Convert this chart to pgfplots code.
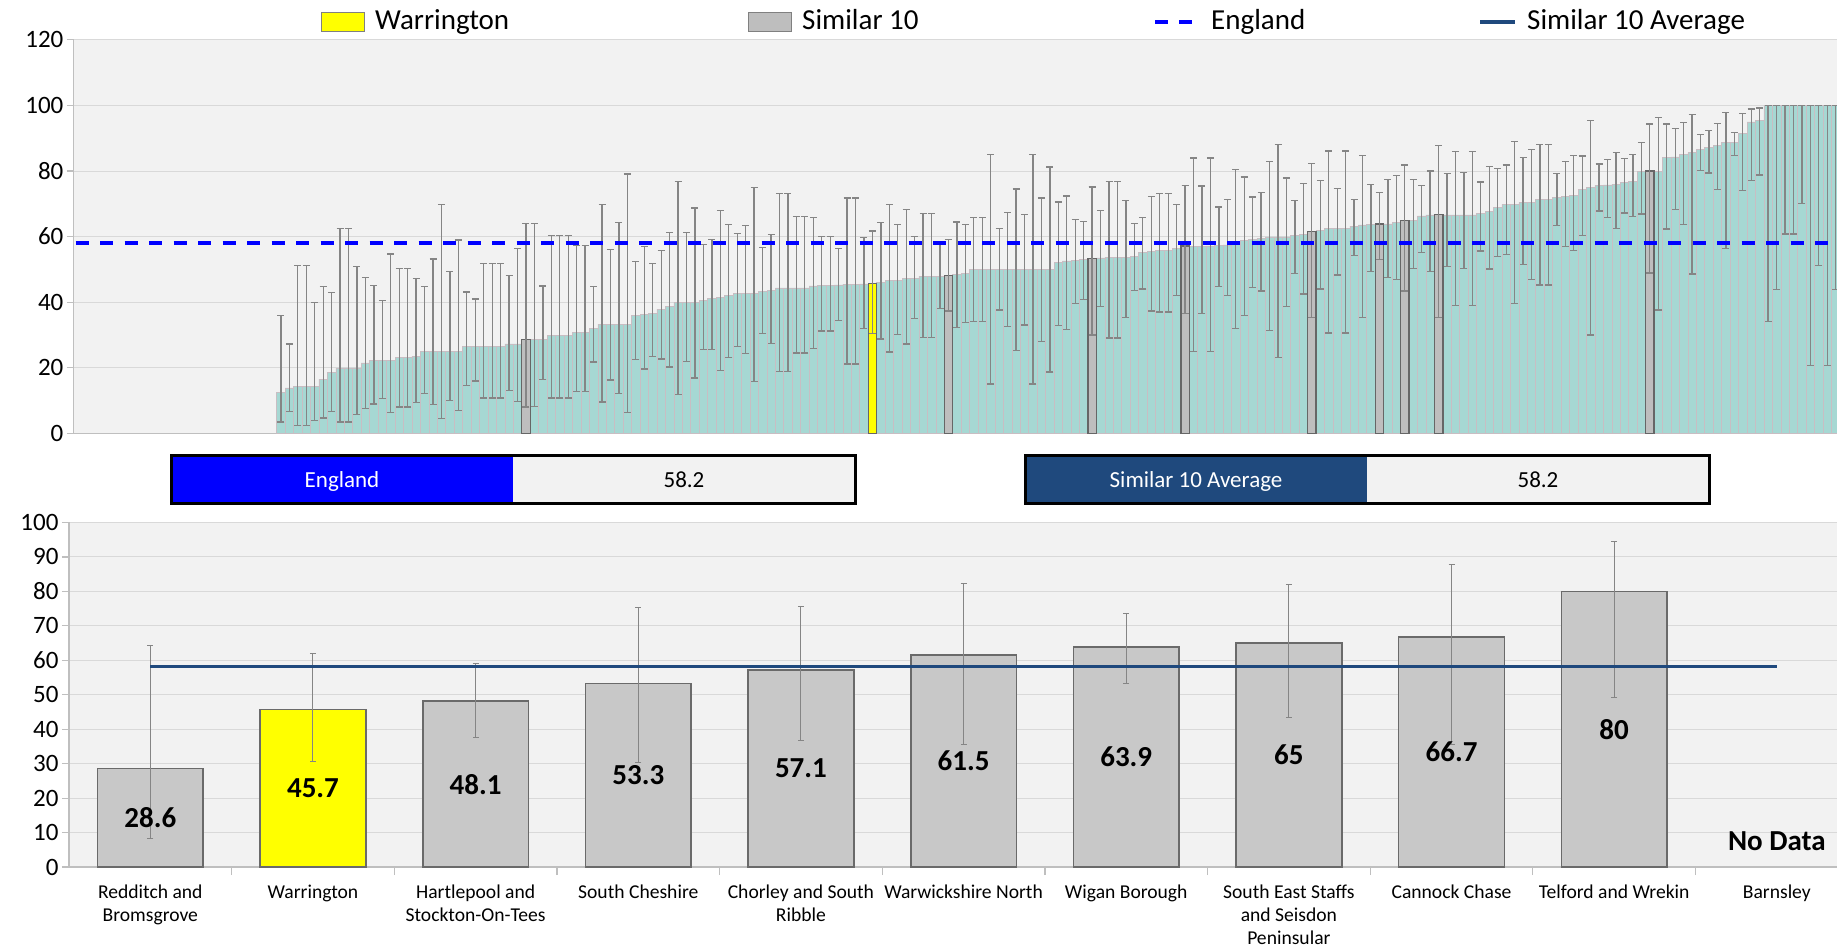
\documentclass[border=0pt]{standalone}
\usepackage{pgfplots}
\usepackage{pgfplotstable}
\pgfplotsset{compat=1.18}
\usepackage{fontspec}
\setmainfont{Carlito}
\definecolor{tealbar}{HTML}{A6D8D3}
\definecolor{tealedge}{HTML}{C8BEC3}
\definecolor{plotbg}{HTML}{F2F2F2}
\definecolor{gridc}{HTML}{D9D9D9}
\definecolor{axisc}{HTML}{BFBFBF}
\definecolor{simgrey}{HTML}{BEBEBE}
\definecolor{simedge}{HTML}{666666}
\definecolor{botgrey}{HTML}{C8C8C8}
\definecolor{botedge}{HTML}{6A6A6A}
\definecolor{errc}{HTML}{858585}
\definecolor{navy}{HTML}{1F497D}
\definecolor{engblue}{HTML}{0000FF}
\definecolor{warr}{HTML}{FFFF00}

\pgfplotstableread{
k y hi lo
0 12.6 36.0 3.5
1 13.9 27.3 6.6
2 14.4 51.3 2.5
3 14.4 51.3 2.5
4 14.4 40.0 4.0
5 16.6 44.8 4.7
6 18.7 43.0 6.6
7 20.0 62.5 3.5
8 20.0 62.5 3.5
9 20.0 51.0 5.7
10 21.5 47.5 7.6
11 22.2 45.2 9.0
12 22.2 40.6 10.6
13 22.2 54.7 6.3
14 23.1 50.3 8.1
15 23.1 50.3 8.1
16 23.6 47.2 9.5
17 25.0 44.8 12.1
18 25.0 53.2 8.9
19 25.0 69.8 4.6
20 25.0 49.4 10.1
21 25.0 59.0 7.1
22 26.5 43.1 14.7
23 26.6 41.0 16.0
24 26.6 51.9 10.8
25 26.6 51.9 10.8
26 26.6 51.9 10.8
27 27.3 48.1 13.2
28 27.3 56.4 9.7
29 28.6 64.0 8.1
30 28.6 64.0 8.3
31 28.6 45.0 16.4
32 30.0 60.3 10.8
33 30.0 60.3 10.8
34 30.0 60.3 10.8
35 30.9 57.4 12.7
36 30.9 57.4 12.7
37 32.1 44.8 21.8
38 33.3 69.9 9.6
39 33.3 56.1 16.3
40 33.3 64.4 12.1
41 33.3 79.1 6.3
42 36.1 52.4 22.5
43 36.4 56.9 19.7
44 36.7 51.8 23.5
45 37.9 55.8 22.7
46 38.8 61.3 20.3
47 40.0 76.8 11.9
48 40.0 61.3 21.9
49 40.0 68.7 16.9
50 40.6 57.6 25.5
51 41.2 59.2 25.5
52 41.5 68.0 19.3
53 42.1 63.7 23.1
54 42.8 60.9 26.5
55 42.8 63.3 24.4
56 42.8 74.9 15.8
57 43.2 56.6 30.5
58 43.5 60.7 27.4
59 44.4 73.2 18.8
60 44.4 73.2 18.8
61 44.4 66.2 24.5
62 44.4 66.2 24.5
63 45.0 65.8 25.8
64 45.2 60.0 31.2
65 45.2 60.0 31.2
66 45.3 56.4 34.5
67 45.5 71.8 21.2
68 45.5 71.8 21.2
69 45.6 59.8 32.1
70 45.7 61.7 30.4
71 46.1 64.4 28.8
72 46.7 69.8 24.8
73 46.7 63.7 30.2
74 47.3 68.2 27.3
75 47.3 60.0 35.0
76 47.9 67.0 29.3
77 47.9 67.0 29.3
78 47.9 57.6 38.1
79 48.1 59.1 37.3
80 48.5 64.5 32.4
81 48.8 63.7 33.8
82 50.0 65.9 34.1
83 50.0 65.9 34.1
84 50.0 85.0 15.1
85 50.0 62.4 37.6
86 50.0 67.3 32.6
87 50.0 74.5 25.3
88 50.0 66.8 33.1
89 50.0 85.0 15.1
90 50.0 71.8 28.0
91 50.0 81.2 18.7
92 52.2 70.6 32.9
93 52.6 72.4 31.7
94 52.8 65.2 39.7
95 53.1 64.7 40.9
96 53.3 75.1 30.0
97 53.5 67.9 38.8
98 53.7 76.8 29.1
99 53.7 76.8 29.1
100 53.7 71.1 35.4
101 54.0 64.0 43.5
102 55.2 65.8 44.0
103 55.5 72.3 37.3
104 55.8 73.2 37.0
105 55.8 73.2 37.0
106 56.4 69.7 42.1
107 57.1 75.5 36.5
108 57.0 84.0 25.0
109 57.1 75.4 36.5
110 57.2 84.0 25.0
111 57.3 69.0 44.8
112 57.5 71.3 42.1
113 58.2 80.4 31.9
114 58.8 78.2 36.0
115 59.2 72.1 44.4
116 59.5 73.5 43.4
117 59.9 83.0 31.3
118 59.9 88.1 23.1
119 59.9 77.9 38.7
120 60.4 71.0 48.8
121 60.7 76.3 42.5
122 61.5 82.3 35.4
123 62.0 77.2 44.0
124 62.6 86.1 30.6
125 62.6 74.6 48.3
126 62.6 86.1 30.6
127 63.2 71.4 54.2
128 63.6 84.7 35.3
129 63.8 75.9 49.4
130 63.9 73.4 53.1
131 63.9 77.4 47.5
132 64.3 78.7 46.9
133 65.0 81.8 43.4
134 65.0 77.5 50.2
135 66.3 75.5 55.2
136 66.6 80.0 49.4
137 66.7 87.8 35.4
138 66.6 79.2 51.0
139 66.6 86.0 39.1
140 66.6 79.6 50.3
141 66.6 86.0 39.1
142 67.1 76.7 55.6
143 67.8 81.4 50.1
144 69.0 80.8 54.0
145 69.8 81.8 54.6
146 69.8 89.1 39.7
147 70.4 84.1 51.6
148 70.5 86.5 46.9
149 71.4 88.1 45.3
150 71.4 88.1 45.3
151 71.9 79.2 63.3
152 72.3 83.0 57.0
153 72.6 84.8 55.7
154 74.5 84.6 60.3
155 75.0 95.3 30.0
156 75.6 82.1 67.8
157 75.8 83.5 65.9
158 75.9 85.6 62.5
159 76.5 83.8 67.2
160 76.9 85.0 66.2
161 79.9 88.7 66.9
162 80.0 94.3 48.9
163 79.9 96.3 37.6
164 84.1 94.3 62.3
165 84.3 92.9 68.2
166 85.0 94.7 63.8
167 85.6 97.3 48.6
168 86.5 91.1 80.2
169 87.1 92.3 79.4
170 87.7 94.5 74.4
171 88.8 97.9 56.4
172 88.8 91.8 84.8
173 91.5 97.6 74.1
174 95.0 98.9 77.2
175 95.5 99.2 78.8
176 100 100 34.2
177 100 100 43.8
178 100 100 60.8
179 100 100 60.8
180 100 100 70.0
181 100 100 20.7
182 100 100 51.1
183 100 100 20.7
184 100 100 43.8
}\topdata

\pgfplotstableread{
k y hi lo
29 28.6 64.0 8.1
79 48.1 59.1 37.3
96 53.3 75.1 30.0
107 57.1 75.5 36.5
122 61.5 82.3 35.4
130 63.9 73.4 53.1
133 65.0 81.8 43.4
137 66.7 87.8 35.4
162 80.0 94.3 48.9
}\topsim

\pgfplotstableread{
k y hi lo
70 45.7 61.7 30.4
}\topwarr

\pgfplotstableread{
x y hi lo
0 28.6 64.2 8.4
2 48.1 59.1 37.5
3 53.3 75.2 30.2
4 57.1 75.6 36.7
5 61.5 82.4 35.6
6 63.9 73.5 53.2
7 65.0 81.9 43.4
8 66.7 87.9 35.5
9 80.0 94.4 49.1
}\botsim

\pgfplotstableread{
x y hi lo
1 45.7 62.0 30.6
}\botwarr

\pgfplotsset{
  toperr/.style={/pgfplots/error bars/y dir=both, /pgfplots/error bars/y explicit,
    /pgfplots/error bars/error bar style={draw=errc, line width=1.3pt},
    /pgfplots/error bars/error mark options={draw=errc, line width=1.3pt, mark size=3.5pt, rotate=90}},
  boterr/.style={/pgfplots/error bars/y dir=both, /pgfplots/error bars/y explicit,
    /pgfplots/error bars/error bar style={draw=errc, line width=1pt},
    /pgfplots/error bars/error mark options={draw=errc, line width=1pt, mark size=3pt, rotate=90}},
}

\begin{document}
\begin{tikzpicture}[x=1pt,y=1pt]
\begin{axis}[
  at={(73.9pt,514.5pt)}, anchor=south west,
  scale only axis, width=1763.1pt, height=393.7pt,
  xmin=0, xmax=208.65, ymin=0, ymax=120,
  axis background/.style={fill=plotbg},
  axis x line*=bottom, axis y line*=left,
  axis line style={draw=axisc, line width=1.2pt, -},
  xtick=\empty,
  ytick={0,20,...,120},
  ymajorgrids, grid style={draw=gridc, line width=1pt},
  tick align=outside, major tick length=7pt,
  tick style={draw=axisc, line width=1.2pt},
  yticklabel style={font=\fontsize{25}{30}\selectfont, text=black},
  /pgf/number format/assume math mode=true,
]
\addplot[ybar, bar width=1, bar shift=0pt, fill=tealbar, draw=tealedge, line width=0.6pt, forget plot, toperr]
  table[x expr=\thisrow{k}+24.5, y=y, y error plus expr=\thisrow{hi}-\thisrow{y}, y error minus expr=\thisrow{y}-\thisrow{lo}] {\topdata};
\addplot[ybar, bar width=1, bar shift=0pt, fill=simgrey, draw=simedge, line width=1.4pt, forget plot, toperr]
  table[x expr=\thisrow{k}+24.5, y=y, y error plus expr=\thisrow{hi}-\thisrow{y}, y error minus expr=\thisrow{y}-\thisrow{lo}] {\topsim};
\addplot[ybar, bar width=1, bar shift=0pt, fill=warr, draw=simedge, line width=1.4pt, forget plot, toperr]
  table[x expr=\thisrow{k}+24.5, y=y, y error plus expr=\thisrow{hi}-\thisrow{y}, y error minus expr=\thisrow{y}-\thisrow{lo}] {\topwarr};
\addplot[engblue, line width=4pt, dash pattern=on 13pt off 11.5pt, forget plot] coordinates {(0.2,58.2) (208.65,58.2)};
\end{axis}

\begin{axis}[
  at={(69pt,81pt)}, anchor=south west,
  scale only axis, width=1768pt, height=344.5pt,
  xmin=-0.5, xmax=10.37, ymin=0, ymax=100,
  axis background/.style={fill=plotbg},
  axis x line*=bottom, axis y line*=left,
  axis line style={draw=axisc, line width=1.2pt, -},
  xtick={0,...,10},
  xticklabels={{Redditch and\\Bromsgrove},Warrington,{Hartlepool and\\Stockton-On-Tees},South Cheshire,{Chorley and South\\Ribble},Warwickshire North,Wigan Borough,{South East Staffs\\and Seisdon\\Peninsular},Cannock Chase,Telford and Wrekin,Barnsley},
  minor xtick={0.5,1.5,...,9.5},
  major x tick style={draw=none},
  minor x tick style={draw=axisc, line width=1.2pt},
  minor tick length=8pt,
  ytick={0,10,...,100},
  ymajorgrids, grid style={draw=gridc, line width=1pt},
  tick align=outside, major tick length=7pt,
  major y tick style={draw=axisc, line width=1.2pt},
  yticklabel style={font=\fontsize{25}{30}\selectfont, text=black},
  xticklabel style={font=\fontsize{19.6}{23.4}\selectfont, align=center, text=black, yshift=-7pt},
  /pgf/number format/assume math mode=true,
]
\addplot[ybar, bar width=0.65, bar shift=0pt, fill=botgrey, draw=botedge, line width=1.6pt, forget plot, boterr]
  table[x=x, y=y, y error plus expr=\thisrow{hi}-\thisrow{y}, y error minus expr=\thisrow{y}-\thisrow{lo}] {\botsim};
\addplot[ybar, bar width=0.65, bar shift=0pt, fill=warr, draw=botedge, line width=1.6pt, forget plot, boterr]
  table[x=x, y=y, y error plus expr=\thisrow{hi}-\thisrow{y}, y error minus expr=\thisrow{y}-\thisrow{lo}] {\botwarr};
\addplot[navy, line width=3.5pt, forget plot] coordinates {(0,58.2) (10,58.2)};
\addplot[draw=none, mark=none, forget plot, point meta=explicit symbolic, nodes near coords,
  nodes near coords style={anchor=center, font=\bfseries\fontsize{29}{29}\selectfont, text=black}]
  coordinates {(0,14.3)[28.6] (1,22.85)[45.7] (2,24.05)[48.1] (3,26.65)[53.3] (4,28.55)[57.1] (5,30.75)[61.5] (6,31.95)[63.9] (7,32.5)[65] (8,33.35)[66.7] (9,40)[80] (10,7.5)[No Data]};
\end{axis}

% legend
\draw[fill=warr, draw=gray, line width=1pt] (321,916.5) rectangle (364,935.5);
\node[anchor=base west, inner sep=0pt, font=\fontsize{29}{30}\selectfont] at (375,918.5) {Warrington};
\draw[fill=simgrey, draw=gray, line width=1pt] (748,916.5) rectangle (791,935.5);
\node[anchor=base west, inner sep=0pt, font=\fontsize{29}{30}\selectfont] at (802,918.5) {Similar 10};
\draw[engblue, line width=4pt, dash pattern=on 13pt off 11pt] (1155,926) -- (1192,926);
\node[anchor=base west, inner sep=0pt, font=\fontsize{29}{30}\selectfont] at (1211,918.5) {England};
\draw[navy, line width=4pt] (1480,926) -- (1515,926);
\node[anchor=base west, inner sep=0pt, font=\fontsize{29}{30}\selectfont] at (1527,918.5) {Similar 10 Average};

% value boxes
\fill[engblue] (171,444) rectangle (513,492);
\fill[plotbg] (513,444) rectangle (855,492);
\draw[black, line width=3pt] (171,444) rectangle (855,492);
\node[anchor=base, inner sep=0pt, text=white, font=\fontsize{23}{24}\selectfont] at (342,460.6) {England};
\node[anchor=base, inner sep=0pt, font=\fontsize{23}{24}\selectfont] at (684,460.6) {58.2};
\fill[navy] (1025,444) rectangle (1367,492);
\fill[plotbg] (1367,444) rectangle (1709,492);
\draw[black, line width=3pt] (1025,444) rectangle (1709,492);
\node[anchor=base, inner sep=0pt, text=white, font=\fontsize{23}{24}\selectfont] at (1196,460.6) {Similar 10 Average};
\node[anchor=base, inner sep=0pt, font=\fontsize{23}{24}\selectfont] at (1538,460.6) {58.2};

\pgfresetboundingbox
\useasboundingbox (0,0) rectangle (1837,948);
\end{tikzpicture}
\end{document}
